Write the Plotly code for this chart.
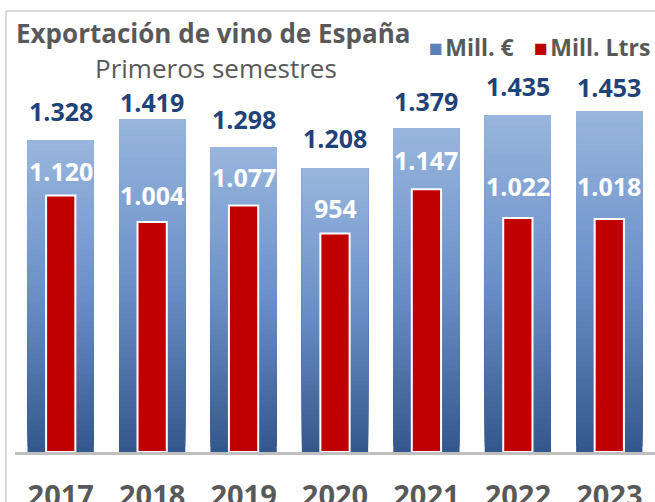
import plotly.graph_objects as go

years = ["2017", "2018", "2019", "2020", "2021", "2022", "2023"]
mill_eur = [1328, 1419, 1298, 1208, 1379, 1435, 1453]
mill_ltrs = [1120, 1004, 1077, 954, 1147, 1022, 1018]
eur_labels = ["1.328", "1.419", "1.298", "1.208", "1.379", "1.435", "1.453"]
ltrs_labels = ["1.120", "1.004", "1.077", "954", "1.147", "1.022", "1.018"]

# label offsets (px, label centre above bar top) as placed in the original
eur_label_shift = [29, 17, 28, 30, 27, 29, 24]
ltrs_label_shift = [25, 27, 28, 26, 29, 32, 33]

FONT = "Open Sans"
GRAY = "#595959"
NAVY = "#1F4378"
RED = "#C00000"
LEG_BLUE = "#5A80B8"

# gradient stops (fraction of bar height from bottom -> colour)
stops = [(0.0, (0x34, 0x57, 0x8B)), (0.5, (0x6A, 0x8F, 0xC8)), (1.0, (0x98, 0xB6, 0xDD))]


def grad(t):
    for (t0, c0), (t1, c1) in zip(stops[:-1], stops[1:]):
        if t <= t1:
            f = (t - t0) / (t1 - t0)
            return "rgb(%d,%d,%d)" % tuple(round(a + (b - a) * f) for a, b in zip(c0, c1))
    return "rgb(%d,%d,%d)" % stops[-1][1]


N = 60
fig = go.Figure()
for k in range(N):
    # each slice runs from its base to the top of the bar; later slices cover earlier ones
    fig.add_trace(go.Bar(
        x=years,
        y=[v * (N - k) / N for v in mill_eur],
        base=[v * k / N for v in mill_eur],
        width=0.725,
        name="Mill. €",
        marker=dict(color=grad((k + 0.5) / N), line=dict(width=0)),
        showlegend=False, hoverinfo="skip",
    ))

fig.add_trace(go.Bar(x=years, y=mill_ltrs, name="Mill. Ltrs", width=0.32, yaxis="y2",
                     marker=dict(color=RED, line=dict(color="white", width=2)),
                     showlegend=False, hoverinfo="skip"))

Y1MAX = 1670
Y2MAX = 1712

for i, (v, t) in enumerate(zip(mill_eur, eur_labels)):
    fig.add_annotation(x=i, y=v, xref="x", yref="y", text="<b>%s</b>" % t, showarrow=False,
                       yanchor="middle", yshift=eur_label_shift[i],
                       font=dict(family=FONT, size=25, color=NAVY))
for i, (v, t) in enumerate(zip(mill_ltrs, ltrs_labels)):
    fig.add_annotation(x=i, y=v, xref="x", yref="y2", text="<b>%s</b>" % t, showarrow=False,
                       yanchor="middle", yshift=ltrs_label_shift[i],
                       font=dict(family=FONT, size=25, color="white"))

# title / subtitle
fig.add_annotation(xref="paper", yref="paper", x=-1 / 640, y=1.0, yshift=27,
                   xanchor="left", yanchor="middle", showarrow=False,
                   text="<b>Exportación de vino de España</b>",
                   font=dict(family=FONT, size=26, color=GRAY))
fig.add_annotation(xref="paper", yref="paper", x=201 / 640, y=1.0, yshift=-8,
                   xanchor="center", yanchor="middle", showarrow=False,
                   text="Primeros semestres",
                   font=dict(family=FONT, size=26, color=GRAY))

# legend entries
fig.add_annotation(xref="paper", yref="paper", x=(652 - 15) / 640, y=1.0, yshift=13,
                   xanchor="right", yanchor="middle", showarrow=False,
                   text="<span style='color:%s'>■</span>&#8202;<b>Mill. Ltrs</b>" % RED,
                   font=dict(family=FONT, size=23, color=GRAY))
fig.add_annotation(xref="paper", yref="paper", x=(516 - 15) / 640, y=1.0, yshift=13,
                   xanchor="right", yanchor="middle", showarrow=False,
                   text="<span style='color:%s'>■</span>&#8202;<b>Mill. €</b>" % LEG_BLUE,
                   font=dict(family=FONT, size=23, color=GRAY))

# chart-area frame
fig.add_shape(type="line", xref="paper", yref="paper", x0=-9 / 640, x1=1.02, y0=49 / 392 + 1, y1=49 / 392 + 1,
              line=dict(color="#D9D9D9", width=2))
fig.add_shape(type="line", xref="paper", yref="paper", x0=-9 / 640, x1=-9 / 640, y0=49 / 392 + 1, y1=-0.2,
              line=dict(color="#D9D9D9", width=2))

fig.update_layout(
    width=655, height=502,
    margin=dict(l=15, r=0, t=60, b=50, autoexpand=False),
    barmode="overlay",
    plot_bgcolor="white", paper_bgcolor="white",
    font=dict(family=FONT, color=GRAY),
    showlegend=False,
    xaxis=dict(type="category", categoryorder="array", categoryarray=years,
               range=[-0.5, 6.5], showgrid=False, showline=True, linecolor="#BFBFBF", linewidth=3,
               ticks="", tickfont=dict(family=FONT, size=29, color=GRAY, weight="bold"),
               ticklabelstandoff=16, fixedrange=True, automargin=False),
    yaxis=dict(range=[0, Y1MAX], visible=False, showgrid=False, fixedrange=True, automargin=False),
    yaxis2=dict(range=[0, Y2MAX], overlaying="y", visible=False, showgrid=False, fixedrange=True,
                automargin=False),
)

fig.write_html("out.html", config={"displayModeBar": False},
               post_script="document.body.style.margin='0';document.body.style.overflow='hidden';")
